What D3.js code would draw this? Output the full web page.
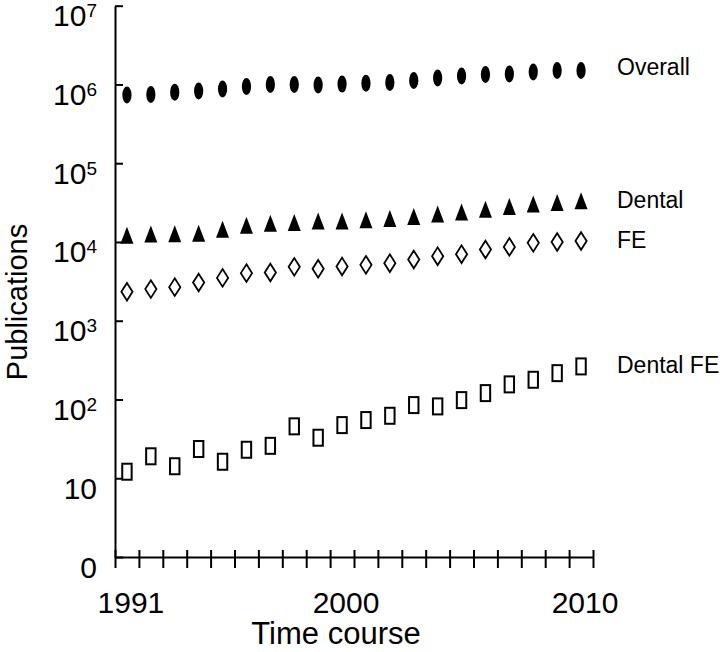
<!DOCTYPE html>
<html>
<head>
<meta charset="utf-8">
<script src="https://cdn.jsdelivr.net/npm/d3@7"></script>
<style>
  body { margin: 0; background: #fff; }
  svg { display: block; font-family: "Liberation Sans", Arial, sans-serif; }
</style>
</head>
<body>
<div id="chart"></div>
<script>
// years on the x axis (one marker per year)
var years = [1991, 1992, 1993, 1994, 1995, 1996, 1997, 1998, 1999, 2000,
             2001, 2002, 2003, 2004, 2005, 2006, 2007, 2008, 2009, 2010];
var xTickLabels = [1991, 2000, 2010];
var yTickValues = [1, 10, 100, 1000, 10000, 100000, 1000000, 10000000];

// publication counts
var overall = [736000, 745000, 796000, 827000, 877000, 940000, 997000, 997000, 986000, 1010000,
               1035000, 1057000, 1120000, 1210000, 1280000, 1340000, 1360000, 1440000, 1500000, 1500000];
var dental = [12200, 12600, 12700, 12900, 14500, 16300, 17300, 17700, 18400, 18400,
              19100, 19900, 21100, 22700, 24100, 26100, 28200, 30400, 31700, 33300];
var fe = [2330, 2520, 2670, 3060, 3500, 4020, 4100, 4830, 4560, 4890,
          5120, 5380, 6000, 6600, 7000, 8030, 8660, 9740, 10000, 10300];
var dentalFE = [12.1, 19.0, 14.2, 23.5, 16.2, 23.0, 25.8, 45.6, 32.7, 47.3,
                54.8, 62.1, 84.9, 81.7, 98.2, 120.5, 155.5, 178, 216, 263];
var seriesNames = ["Overall", "Dental", "FE", "Dental FE"];

var width = 726, height = 652;

var svg = d3.select("#chart")
    .append("svg")
    .attr("width", width)
    .attr("height", height);

// each year sits in the middle of its slot, ticks mark slot edges
var x = d3.scaleLinear()
    .domain([1990.5, 2010.5])
    .range([115, 593]);

const y = d3.scaleLog()
    .domain([1, 1e7])
    .range([557, 5.7]);

var slotEdges = years.map(d => d - 0.5).concat([years[years.length - 1] + 0.5]);

// x axis
var xAxis = svg.append("g")
    .attr("transform", "translate(0," + y(1) + ")")
    .call(d3.axisBottom(x).tickValues(slotEdges).tickSize(11).tickSizeOuter(0).tickFormat(""));
xAxis.select(".domain").attr("stroke-width", 2);
xAxis.selectAll(".tick line").attr("y1", -7).attr("stroke-width", 2);

// y axis
var yAxis = svg.append("g")
    .attr("transform", "translate(" + x(1990.5) + ",0)")
    .call(d3.axisLeft(y).tickValues(yTickValues).tickSize(8).tickSizeOuter(0).tickFormat(""));
yAxis.select(".domain").attr("stroke-width", 2);
yAxis.selectAll(".tick line").attr("x2", 8).attr("stroke-width", 2);

yAxis.selectAll(".tick").each(function(d) {
    var t = d3.select(this).append("text")
        .attr("x", -18)
        .attr("y", 0)
        .attr("dy", 20)
        .attr("fill", "#000")
        .attr("text-anchor", "end")
        .style("font-size", "30px");
    var p = Math.round(Math.log10(d));
    if (p === 0) {
        t.text("0");
    } else if (p === 1) {
        t.text("10");
    } else {
        t.append("tspan").text("10");
        t.append("tspan")
            .attr("dy", -9)
            .style("font-size", "19px")
            .text(p);
    }
});

// x tick labels
svg.selectAll(".xlabel")
    .data(xTickLabels)
    .enter().append("text")
    .attr("class", "xlabel")
    .attr("x", d => x(d) + 4)
    .attr("y", 613)
    .attr("text-anchor", "middle")
    .style("font-size", "30px")
    .text(d => d);

// axis titles
svg.append("text")
    .attr("x", 336)
    .attr("y", 644)
    .attr("text-anchor", "middle")
    .style("font-size", "31px")
    .text("Time course");

svg.append("text")
    .attr("transform", "translate(27,302) rotate(-90)")
    .attr("text-anchor", "middle")
    .style("font-size", "29px")
    .text("Publications");

// markers
var pts = function(values) {
    return values.map(function(v, i) { return {year: years[i], value: v}; });
};

svg.append("g").selectAll("ellipse")
    .data(pts(overall))
    .enter().append("ellipse")
    .attr("cx", d => x(d.year))
    .attr("cy", d => y(d.value))
    .attr("rx", 4.6)
    .attr("ry", 8.5)
    .attr("fill", "#000");

svg.append("g").selectAll("path")
    .data(pts(dental))
    .enter().append("path")
    .attr("transform", d => "translate(" + x(d.year) + "," + y(d.value) + ")")
    .attr("d", "M0,-8.5L6.5,8.5L-6.5,8.5Z")
    .attr("fill", "#000");

svg.append("g").selectAll("path")
    .data(pts(fe))
    .enter().append("path")
    .attr("transform", d => "translate(" + x(d.year) + "," + y(d.value) + ")")
    .attr("d", "M0,-8.8L5.6,0L0,8.8L-5.6,0Z")
    .attr("fill", "#fff")
    .attr("stroke", "#000")
    .attr("stroke-width", 1.8);

svg.append("g").selectAll("rect")
    .data(pts(dentalFE))
    .enter().append("rect")
    .attr("x", d => x(d.year) - 4.7)
    .attr("y", d => y(d.value) - 8)
    .attr("width", 9.4)
    .attr("height", 16)
    .attr("fill", "#fff")
    .attr("stroke", "#000")
    .attr("stroke-width", 2);

// series labels next to the last point of each series
var lastValues = [overall, dental, fe, dentalFE].map(s => s[s.length - 1]);
svg.selectAll(".serieslabel")
    .data(seriesNames)
    .enter().append("text")
    .attr("class", "serieslabel")
    .attr("x", 617)
    .attr("y", (d, i) => y(lastValues[i]))
    .attr("dy", (d, i) => i === 0 ? 4 : 7)
    .style("font-size", "23px")
    .text(d => d);
</script>
</body>
</html>
